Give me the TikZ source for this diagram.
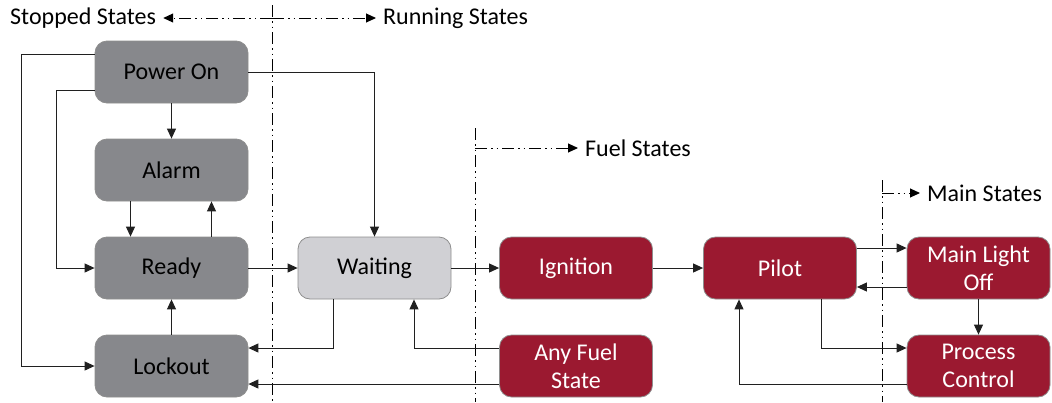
\documentclass[tikz,border=0pt]{standalone}
\usepackage{fontspec}
\setmainfont{Carlito}
\usetikzlibrary{arrows.meta}
\definecolor{boxgrey}{HTML}{87888C}
\definecolor{waitgrey}{HTML}{D0D0D4}
\definecolor{fuelred}{HTML}{9B1930}
\definecolor{edgegrey}{HTML}{8E8E8E}
\definecolor{linecol}{HTML}{202020}
\begin{document}
\begin{tikzpicture}[x=1pt,y=-1pt,
  font=\fontsize{24}{28}\selectfont,
  state/.style={rectangle, rounded corners=12pt, minimum width=153pt, minimum height=62pt,
    inner sep=2pt, align=center, draw=edgegrey, line width=0.8pt},
  gbox/.style={state, fill=boxgrey, text=black},
  wbox/.style={state, fill=waitgrey, text=black},
  rbox/.style={state, fill=fuelred, text=white},
  arr/.style={draw=linecol, line width=1pt, -{Triangle[length=10pt,width=9pt]}},
  divider/.style={draw=black, line width=1pt, dash pattern=on 12pt off 4pt on 1.5pt off 4pt on 1.5pt off 4pt},
  divarr/.style={divider, shorten >=4pt, -{Triangle[length=10pt,width=9pt]}},
  lab/.style={inner sep=3pt, text=black}]
\useasboundingbox (0,0) rectangle (1052,402);

% state nodes
\node[gbox] (power)   at (171.5,72)  {Power On};
\node[gbox] (alarm)   at (171.5,170) {Alarm};
\node[gbox] (ready)   at (171.5,268) {Ready};
\node[gbox] (lockout) at (171.5,366) {Lockout};
\node[wbox] (waiting) at (374.5,268) {Waiting};
\node[rbox] (ignition) at (576,268) {Ignition};
\node[rbox] (anyfuel)  at (576,366) {Any Fuel\\State};
\node[rbox] (pilot)    at (780,268) {Pilot};
\node[rbox, minimum width=143pt] (mlo) at (978.5,268) {Main Light\\Off};
\node[rbox, minimum width=143pt] (pc)  at (978.5,366) {Process\\Control};

% dividers
\coordinate (d1top) at (272,5);
\coordinate (d1bot) at (272,402);
\coordinate (d1mid) at (272,18);
\node[lab, anchor=west] (stopped) at (7,18) {Stopped States};
\node[lab, anchor=west] (running) at (380,18) {Running States};
\draw[divider] (d1top) -- (d1bot);
\draw[divarr] (d1mid) -- (stopped.east);
\draw[divarr] (d1mid) -- (running.west);

\coordinate (d2top) at (475,128);
\coordinate (d2bot) at (475,402);
\coordinate (d2mid) at (475,148);
\node[lab, anchor=west] (fuel) at (582,148) {Fuel States};
\draw[divider] (d2top) -- (d2bot);
\draw[divarr] (d2mid) -- (fuel.west);

\coordinate (d3top) at (882,180);
\coordinate (d3bot) at (882,402);
\coordinate (d3mid) at (882,193);
\node[lab, anchor=west] (mainst) at (924,193) {Main States};
\draw[divider] (d3top) -- (d3bot);
\draw[divarr] (d3mid) -- (mainst.west);

% connectors
\draw[arr] ([yshift=18pt]power.west) -- ++(-73,0) |- (lockout.west);
\draw[arr] ([yshift=-18pt]power.west) -- ++(-38,0) |- (ready.west);
\draw[arr] (power.south) -- (alarm.north);
\draw[arr] ([xshift=-41pt]alarm.south) -- ([xshift=-41pt]ready.north);
\draw[arr] ([xshift=40pt]ready.north) -- ([xshift=40pt]alarm.south);
\draw[arr] (lockout.north) -- (ready.south);
\draw[arr] (power.east) -| (waiting.north);
\draw[arr] (ready.east) -- (waiting.west);
\draw[arr] ([xshift=-41.5pt]waiting.south) |- ([yshift=18pt]lockout.east);
\draw[arr] ([yshift=18pt]anyfuel.west) -| ([xshift=39.5pt]waiting.south);
\draw[arr] ([yshift=-18pt]anyfuel.west) -- ([yshift=-18pt]lockout.east);
\draw[arr] (waiting.east) -- (ignition.west);
\draw[arr] (ignition.east) -- (pilot.west);
\draw[arr] ([yshift=20pt]pilot.east) -- ([yshift=20pt]mlo.west);
\draw[arr] ([yshift=-19pt]mlo.west) -- ([yshift=-19pt]pilot.east);
\draw[arr] (mlo.south) -- (pc.north);
\draw[arr] ([xshift=41pt]pilot.south) |- ([yshift=18pt]pc.west);
\draw[arr] ([yshift=-18pt]pc.west) -| ([xshift=-41pt]pilot.south);
\end{tikzpicture}
\end{document}
